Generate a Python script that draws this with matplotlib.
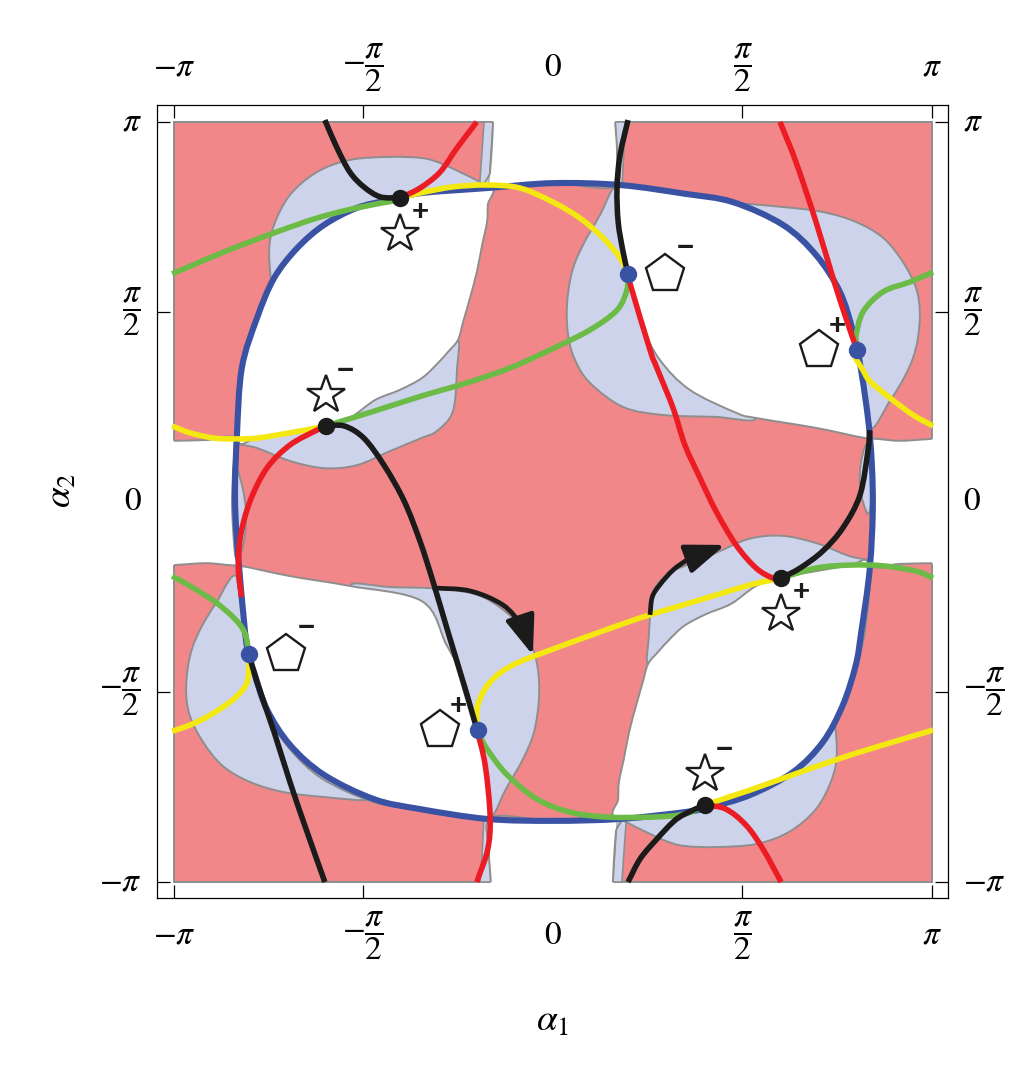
import numpy as np
import matplotlib.pyplot as plt
from matplotlib.patches import Polygon, Rectangle, PathPatch
from matplotlib.path import Path
from matplotlib.transforms import offset_copy

plt.rcParams['mathtext.fontset'] = 'stix'
plt.rcParams['font.family'] = ['Liberation Serif', 'DejaVu Serif']

P = np.pi
# every coordinate below is (alpha1, alpha2) in units of pi

# closed blue curve
blue = [(-0.839, 0.003), (-0.834, 0.176), (-0.821, 0.353), (-0.781, 0.484), (-0.736, 0.589),
        (-0.675, 0.668), (-0.604, 0.729), (-0.517, 0.774), (-0.430, 0.795), (-0.346, 0.813),
        (-0.174, 0.826), (0.0, 0.839), (0.177, 0.834), (0.348, 0.811), (0.475, 0.789),
        (0.607, 0.729), (0.694, 0.650), (0.757, 0.553), (0.792, 0.447), (0.813, 0.347),
        (0.836, 0.176), (0.844, 0.003), (0.836, -0.174), (0.813, -0.345), (0.799, -0.429),
        (0.765, -0.534), (0.712, -0.632), (0.633, -0.711), (0.520, -0.771), (0.414, -0.803),
        (0.348, -0.816), (0.177, -0.834), (0.0, -0.839), (-0.174, -0.834), (-0.351, -0.808),
        (-0.472, -0.782), (-0.604, -0.718), (-0.694, -0.639), (-0.755, -0.545), (-0.789, -0.447),
        (-0.807, -0.387), (-0.828, -0.174)]

# white leaves inside the blue curve
leaf_tl = [(-0.834, 0.166), (-0.821, 0.353), (-0.781, 0.484), (-0.736, 0.589), (-0.675, 0.668),
           (-0.604, 0.729), (-0.517, 0.774), (-0.430, 0.795), (-0.346, 0.813), (-0.169, 0.829),
           (-0.172, 0.782), (-0.174, 0.737), (-0.187, 0.676), (-0.201, 0.605), (-0.219, 0.537),
           (-0.237, 0.474), (-0.251, 0.426), (-0.277, 0.395), (-0.306, 0.363), (-0.346, 0.326),
           (-0.404, 0.295), (-0.470, 0.268), (-0.536, 0.221), (-0.599, 0.2), (-0.623, 0.195),
           (-0.694, 0.182), (-0.781, 0.168)]
leaf_br = [(0.834, -0.166), (0.821, -0.353), (0.781, -0.484), (0.736, -0.589), (0.675, -0.668),
           (0.604, -0.729), (0.517, -0.774), (0.430, -0.795), (0.346, -0.813), (0.169, -0.829),
           (0.172, -0.782), (0.174, -0.737), (0.187, -0.676), (0.201, -0.605), (0.219, -0.537),
           (0.237, -0.474), (0.251, -0.426), (0.277, -0.395), (0.306, -0.363), (0.346, -0.326),
           (0.404, -0.295), (0.470, -0.268), (0.536, -0.221), (0.599, -0.2), (0.623, -0.195),
           (0.694, -0.182), (0.781, -0.168)]
leaf_tr = [(0.169, 0.826), (0.177, 0.834), (0.348, 0.811), (0.475, 0.789), (0.607, 0.729),
           (0.694, 0.650), (0.757, 0.553), (0.792, 0.447), (0.813, 0.347), (0.836, 0.176),
           (0.826, 0.168), (0.694, 0.195), (0.536, 0.221), (0.485, 0.234), (0.361, 0.295),
           (0.282, 0.374), (0.237, 0.461), (0.203, 0.576), (0.198, 0.6), (0.185, 0.658),
           (0.172, 0.737)]
leaf_bl = [(-0.169, -0.826), (-0.177, -0.834), (-0.348, -0.811), (-0.475, -0.789), (-0.607, -0.729),
           (-0.694, -0.650), (-0.757, -0.553), (-0.792, -0.447), (-0.813, -0.347), (-0.836, -0.176),
           (-0.826, -0.168), (-0.694, -0.195), (-0.536, -0.221), (-0.346, -0.261), (-0.282, -0.374),
           (-0.237, -0.461), (-0.203, -0.576), (-0.198, -0.6), (-0.185, -0.658), (-0.172, -0.737)]

# white strips at the square edges: inner edge, then points outside the square
strip_top = [(-0.158, 1.0), (-0.161, 0.939), (-0.166, 0.868), (-0.169, 0.829), (0.0, 0.839),
             (0.161, 0.829), (0.169, 0.913), (0.164, 1.0)]
strip_top_out = [(0.164, 1.1), (-0.158, 1.1)]
strip_bot = [(-0.164, -1.0), (-0.169, -0.913), (-0.161, -0.829), (0.0, -0.839),
             (0.169, -0.829), (0.166, -0.868), (0.161, -0.939), (0.158, -1.0)]
strip_bot_out = [(0.158, -1.1), (-0.164, -1.1)]
strip_left = [(-1.0, 0.161), (-0.913, 0.163), (-0.842, 0.168), (-0.844, 0.084), (-0.847, 0.003),
              (-0.844, -0.074), (-0.839, -0.139), (-0.834, -0.166), (-0.913, -0.161), (-1.0, -0.166)]
strip_left_out = [(-1.1, -0.166), (-1.1, 0.161)]
strip_right = [(1.0, 0.166), (0.913, 0.161), (0.834, 0.166), (0.839, 0.139), (0.844, 0.074),
               (0.847, -0.003), (0.844, -0.084), (0.842, -0.168), (0.913, -0.163), (1.0, -0.161)]
strip_right_out = [(1.1, -0.161), (1.1, 0.166)]

# lavender blobs
lav_star_tl = [(-0.741, 0.558), (-0.749, 0.658), (-0.736, 0.729), (-0.694, 0.808), (-0.623, 0.868),
               (-0.536, 0.9), (-0.430, 0.908), (-0.346, 0.905), (-0.298, 0.892), (-0.245, 0.868),
               (-0.193, 0.842), (-0.161, 0.821), (-0.346, 0.813), (-0.517, 0.774), (-0.675, 0.668),
               (-0.736, 0.589)]
lav_star_br = [(0.741, -0.558), (0.749, -0.658), (0.736, -0.729), (0.694, -0.808), (0.623, -0.868),
               (0.536, -0.9), (0.430, -0.908), (0.346, -0.905), (0.298, -0.892), (0.245, -0.868),
               (0.193, -0.842), (0.161, -0.821), (0.346, -0.813), (0.517, -0.774), (0.675, -0.668),
               (0.736, -0.589)]
lav_pent_tr = [(0.488, 0.782), (0.607, 0.776), (0.712, 0.763), (0.799, 0.737), (0.871, 0.695),
               (0.923, 0.632), (0.958, 0.563), (0.968, 0.5), (0.963, 0.432), (0.950, 0.379),
               (0.926, 0.326), (0.889, 0.266), (0.836, 0.195), (0.813, 0.347), (0.792, 0.447),
               (0.757, 0.553), (0.694, 0.650), (0.607, 0.729)]
lav_pent_bl = [(-0.488, -0.782), (-0.607, -0.776), (-0.712, -0.763), (-0.799, -0.737), (-0.871, -0.695),
               (-0.923, -0.632), (-0.958, -0.563), (-0.968, -0.5), (-0.963, -0.432), (-0.950, -0.379),
               (-0.926, -0.326), (-0.889, -0.266), (-0.836, -0.195), (-0.813, -0.347), (-0.792, -0.447),
               (-0.757, -0.553), (-0.694, -0.650), (-0.607, -0.729)]
lav_pent_tc = [(0.161, 0.826), (0.124, 0.755), (0.079, 0.676), (0.050, 0.605), (0.037, 0.518),
               (0.040, 0.439), (0.058, 0.374), (0.098, 0.313), (0.185, 0.250), (0.290, 0.229),
               (0.427, 0.224), (0.533, 0.221), (0.388, 0.321), (0.230, 0.532), (0.190, 0.795)]
lav_pent_bc = [(-0.161, -0.826), (-0.124, -0.755), (-0.079, -0.676), (-0.050, -0.605), (-0.037, -0.518),
               (-0.040, -0.439), (-0.058, -0.374), (-0.098, -0.313), (-0.185, -0.250), (-0.290, -0.229),
               (-0.427, -0.224), (-0.533, -0.221), (-0.388, -0.321), (-0.230, -0.532), (-0.190, -0.795)]
lav_star_tc = [(-0.834, 0.155), (-0.781, 0.142), (-0.694, 0.108), (-0.604, 0.089), (-0.517, 0.097),
               (-0.430, 0.134), (-0.348, 0.168), (-0.306, 0.187), (-0.264, 0.239), (-0.253, 0.353),
               (-0.251, 0.426), (-0.30, 0.38), (-0.45, 0.29), (-0.599, 0.2), (-0.77, 0.17)]
lav_star_bc = [(0.834, -0.155), (0.781, -0.142), (0.694, -0.108), (0.604, -0.089), (0.517, -0.097),
               (0.430, -0.134), (0.348, -0.168), (0.306, -0.187), (0.264, -0.239), (0.253, -0.353),
               (0.251, -0.426), (0.30, -0.38), (0.45, -0.29), (0.599, -0.2), (0.77, -0.17)]
# thin lavender slivers beside the strips
lav_sliver_l = [(-0.834, 0.084), (-0.818, 0.032), (-0.810, -0.026), (-0.813, -0.087), (-0.826, -0.132),
                (-0.844, -0.047), (-0.844, 0.032)]
lav_sliver_r = [(0.826, 0.150), (0.812, 0.100), (0.810, 0.050), (0.818, 0.0), (0.834, -0.03),
                (0.844, 0.05), (0.842, 0.12)]
lav_sliver_tl = [(-0.182, 1.0), (-0.158, 1.0), (-0.169, 0.829), (-0.193, 0.842), (-0.187, 0.926)]
lav_sliver_tr = [(0.164, 1.0), (0.193, 1.0), (0.187, 0.926), (0.182, 0.826), (0.161, 0.826),
                 (0.169, 0.913)]
lav_sliver_bl = [(-0.164, -1.0), (-0.193, -1.0), (-0.187, -0.926), (-0.182, -0.826), (-0.161, -0.826),
                 (-0.169, -0.913)]
lav_sliver_br = [(0.182, -1.0), (0.158, -1.0), (0.169, -0.829), (0.193, -0.842), (0.187, -0.926)]

# coloured curves
black_curves = [
    [(-0.602, 1.005), (-0.570, 0.932), (-0.536, 0.868), (-0.499, 0.829), (-0.456, 0.803), (-0.404, 0.8)],
    [(-0.602, 0.2), (-0.551, 0.2), (-0.499, 0.168), (-0.446, 0.097), (-0.393, 0.003), (-0.351, -0.103),
     (-0.317, -0.208), (-0.280, -0.332), (-0.237, -0.474), (-0.201, -0.597)],
    [(-0.802, -0.4), (-0.781, -0.474), (-0.736, -0.605), (-0.694, -0.737), (-0.649, -0.868), (-0.602, -1.0)],
    [(0.198, 1.005), (0.177, 0.913), (0.169, 0.826), (0.172, 0.737), (0.185, 0.658), (0.198, 0.6)],
    [(0.602, -0.2), (0.652, -0.174), (0.712, -0.129), (0.765, -0.068), (0.810, 0.018), (0.831, 0.134),
     (0.836, 0.189)],
    [(0.198, -1.0), (0.230, -0.939), (0.274, -0.887), (0.317, -0.842), (0.348, -0.821), (0.401, -0.797)],
]
red_curves = [
    [(-0.404, 0.8), (-0.351, 0.826), (-0.298, 0.868), (-0.253, 0.932), (-0.201, 1.0)],
    [(-0.599, 0.2), (-0.623, 0.189), (-0.694, 0.150), (-0.755, 0.089), (-0.799, 0.003), (-0.824, -0.087),
     (-0.830, -0.174), (-0.822, -0.25)],
    [(-0.201, -0.597), (-0.179, -0.692), (-0.166, -0.824), (-0.172, -0.913), (-0.201, -1.0)],
    [(0.198, 0.6), (0.203, 0.576), (0.256, 0.4), (0.274, 0.353), (0.317, 0.247), (0.348, 0.150),
     (0.388, 0.063), (0.430, -0.024), (0.483, -0.113), (0.536, -0.174), (0.580, -0.2), (0.602, -0.2)],
    [(0.802, 0.4), (0.773, 0.484), (0.739, 0.589), (0.694, 0.737), (0.641, 0.895), (0.599, 1.0)],
    [(0.401, -0.797), (0.456, -0.808), (0.509, -0.850), (0.554, -0.913), (0.602, -1.0)],
]
yellow_curves = [
    [(-0.404, 0.8), (-0.351, 0.813), (-0.264, 0.829), (-0.174, 0.834), (-0.087, 0.826), (0.0, 0.789),
     (0.071, 0.747), (0.132, 0.695), (0.177, 0.642), (0.198, 0.6)],
    [(-1.005, 0.2), (-0.958, 0.182), (-0.894, 0.168), (-0.834, 0.166), (-0.781, 0.168), (-0.694, 0.182),
     (-0.623, 0.195), (-0.599, 0.2)],
    [(-0.802, -0.4), (-0.802, -0.413), (-0.807, -0.474), (-0.842, -0.518), (-0.905, -0.561),
     (-0.958, -0.587), (-1.005, -0.603)],
    [(-0.201, -0.597), (-0.198, -0.534), (-0.166, -0.474), (-0.106, -0.429), (0.0, -0.387),
     (0.116, -0.345), (0.230, -0.305), (0.343, -0.271), (0.430, -0.245), (0.520, -0.218),
     (0.580, -0.205), (0.602, -0.2)],
    [(0.802, 0.4), (0.799, 0.379), (0.818, 0.347), (0.836, 0.318), (0.889, 0.274), (0.950, 0.229),
     (1.003, 0.2)],
    [(0.401, -0.797), (0.520, -0.758), (0.652, -0.711), (0.784, -0.666), (0.916, -0.626), (1.003, -0.6)],
]
green_curves = [
    [(-0.404, 0.795), (-0.517, 0.774), (-0.623, 0.747), (-0.736, 0.708), (-0.868, 0.658), (-1.005, 0.6)],
    [(-0.599, 0.2), (-0.472, 0.239), (-0.346, 0.279), (-0.219, 0.316), (-0.113, 0.353), (-0.008, 0.4),
     (0.098, 0.453), (0.169, 0.505), (0.195, 0.558), (0.198, 0.6)],
    [(-1.005, -0.195), (-0.958, -0.221), (-0.894, -0.261), (-0.842, -0.305), (-0.813, -0.345),
     (-0.802, -0.4)],
    [(-0.201, -0.6), (-0.174, -0.650), (-0.121, -0.718), (-0.042, -0.782), (0.045, -0.816),
     (0.142, -0.829), (0.264, -0.829), (0.348, -0.821), (0.401, -0.797)],
    [(0.802, 0.4), (0.799, 0.432), (0.818, 0.5), (0.871, 0.553), (0.942, 0.579), (1.003, 0.605)],
    [(0.602, -0.2), (0.694, -0.174), (0.784, -0.166), (0.871, -0.168), (0.958, -0.182), (1.003, -0.2)],
]

# flow arrows (last point is the arrow tip)
arrow_1 = [(-0.317, -0.226), (-0.219, -0.234), (-0.132, -0.271), (-0.079, -0.326), (-0.053, -0.403)]
arrow_2 = [(0.256, -0.297), (0.262, -0.250), (0.282, -0.218), (0.317, -0.179), (0.361, -0.147),
           (0.454, -0.113)]

# special points
star_plus = [(-0.404, 0.8), (0.602, -0.2)]
star_minus = [(-0.599, 0.2), (0.401, -0.797)]
pent_plus = [(0.802, 0.4), (-0.198, -0.6)]
pent_minus = [(0.198, 0.6), (-0.802, -0.4)]

tick_vals = [-1, -0.5, 0, 0.5, 1]
tick_text = [r'$-\pi$', r'$-\dfrac{\pi}{2}$', r'$0$', r'$\dfrac{\pi}{2}$', r'$\pi$']

RED = '#f2878a'
LAV = '#cdd3ea'
GRAY = '#8e8e8e'
BLUE = '#3a52a3'
LINE_RED = '#ec1c24'
YELLOW = '#f3e80f'
GREEN = '#6bbb46'
BLACK = '#1b1b1b'


def arr(p):
    return np.asarray(p, dtype=float) * P


def smooth_path(points, closed=False):
    # cubic Bezier path through every read point
    p = arr(points)
    if closed:
        ext = np.vstack([p[-1], p, p[0], p[1]])
        nseg = len(p)
    else:
        ext = np.vstack([2 * p[0] - p[1], p, 2 * p[-1] - p[-2]])
        nseg = len(p) - 1
    verts = [p[0]]
    codes = [Path.MOVETO]
    for i in range(nseg):
        p0, p1, p2, p3 = ext[i], ext[i + 1], ext[i + 2], ext[i + 3]
        verts += [p1 + (p2 - p0) / 6, p2 - (p3 - p1) / 6, p2]
        codes += [Path.CURVE4] * 3
    if closed:
        verts.append(p[0])
        codes.append(Path.CLOSEPOLY)
    return Path(verts, codes)


fig = plt.figure(figsize=(10.26, 10.92), dpi=100)
ax = fig.add_axes([157 / 1026, 1 - 898 / 1092, 791 / 1026, 793 / 1092])
ax.set_xlim(-P - 0.141, P + 0.133)
ax.set_ylim(-P - 0.132, P + 0.14)

ax.add_patch(Rectangle((-P, -P), 2 * P, 2 * P, fc=RED, ec=GRAY, lw=1.4, zorder=1))
for blob in [lav_star_tl, lav_star_br, lav_pent_tr, lav_pent_bl, lav_pent_tc, lav_pent_bc,
             lav_star_tc, lav_star_bc, lav_sliver_l, lav_sliver_r]:
    ax.add_patch(PathPatch(smooth_path(blob, True), fc=LAV, ec=GRAY, lw=1.4, zorder=2))
for blob in [lav_sliver_tl, lav_sliver_tr, lav_sliver_bl, lav_sliver_br]:
    ax.add_patch(Polygon(arr(blob), closed=True, fc=LAV, ec=GRAY, lw=1.2, zorder=2))
for leaf in [leaf_tl, leaf_br, leaf_tr, leaf_bl]:
    ax.add_patch(PathPatch(smooth_path(leaf, True), fc='white', ec=GRAY, lw=1.4, zorder=3))
for edge, outside in [(strip_top, strip_top_out), (strip_bot, strip_bot_out),
                      (strip_left, strip_left_out), (strip_right, strip_right_out)]:
    e = arr(edge)
    ax.add_patch(Polygon(np.vstack([e, arr(outside)]), closed=True, fc='white', ec='none', zorder=3))
    ax.add_patch(PathPatch(smooth_path(edge), fc='none', ec=GRAY, lw=1.4, zorder=3.1))

ax.add_patch(PathPatch(smooth_path(blue, True), fc='none', ec=BLUE, lw=4.4, zorder=5))
for curves, col in [(green_curves, GREEN), (yellow_curves, YELLOW),
                    (red_curves, LINE_RED), (black_curves, BLACK)]:
    for c in curves:
        ax.add_patch(PathPatch(smooth_path(c), fc='none', ec=col, lw=4.0, zorder=6,
                               capstyle='butt', joinstyle='round'))

for a in [arrow_1, arrow_2]:
    ax.add_patch(PathPatch(smooth_path(a[:-1]), fc='none', ec=BLACK, lw=3.4, zorder=6))
    a = arr(a)
    ax.annotate('', xy=a[-1], xytext=a[-2],
                arrowprops=dict(arrowstyle='-|>,head_length=1.2,head_width=0.45', color=BLACK,
                                lw=3.4, mutation_scale=20, shrinkA=0, shrinkB=0), zorder=6)

for pts, col in [(star_plus + star_minus, BLACK), (pent_plus + pent_minus, BLUE)]:
    q = arr(pts)
    ax.plot(q[:, 0], q[:, 1], 'o', color=col, ms=11.5, zorder=8)


def symbol(pt, marker, dx, dy, sign, sx, sy):
    x, y = np.asarray(pt) * P
    tr = offset_copy(ax.transData, fig=fig, x=dx, y=dy, units='dots')
    ax.plot([x], [y], marker=marker, ms=29, mfc='white', mec=BLACK, mew=1.7,
            transform=tr, zorder=9, clip_on=False)
    tr2 = offset_copy(ax.transData, fig=fig, x=sx, y=sy, units='dots')
    ax.text(x, y, sign, transform=tr2, fontsize=21, fontweight='bold', family='Liberation Sans',
            ha='center', va='center', color=BLACK, zorder=9)


for pt in star_plus:
    symbol(pt, '*', 0, -36, '+', 20, -14)
for pt in star_minus:
    symbol(pt, '*', 0, 31, '\u2212', 19, 55)
for pt in pent_plus:
    symbol(pt, 'p', -38, 0, '+', -20, 24)
for pt in pent_minus:
    symbol(pt, 'p', 37, 0, '\u2212', 57, 26)

ticks = np.array(tick_vals) * P
ax.set_xticks(ticks)
ax.set_yticks(ticks)
ax.set_xticklabels(tick_text)
ax.set_yticklabels(tick_text)
ax.tick_params(direction='in', length=9.5, width=0.9, top=True, right=True,
               labeltop=True, labelright=True, labelsize=24)
ax.tick_params(axis='x', pad=27)
ax.tick_params(axis='y', pad=11)
for t in ax.xaxis.get_major_ticks() + ax.yaxis.get_major_ticks():
    t.label1.set_verticalalignment('center')
    t.label2.set_verticalalignment('center')
for s in ax.spines.values():
    s.set_linewidth(0.9)
    s.set_zorder(20)

ax.set_xlabel(r'$\alpha_1$', fontsize=27, va='center')
ax.set_ylabel(r'$\alpha_2$', fontsize=27, va='center', ha='center')
ax.xaxis.set_label_coords(0.5, -0.156)
ax.yaxis.set_label_coords(-0.12, 0.514)

fig.savefig('out.png', dpi=100)
